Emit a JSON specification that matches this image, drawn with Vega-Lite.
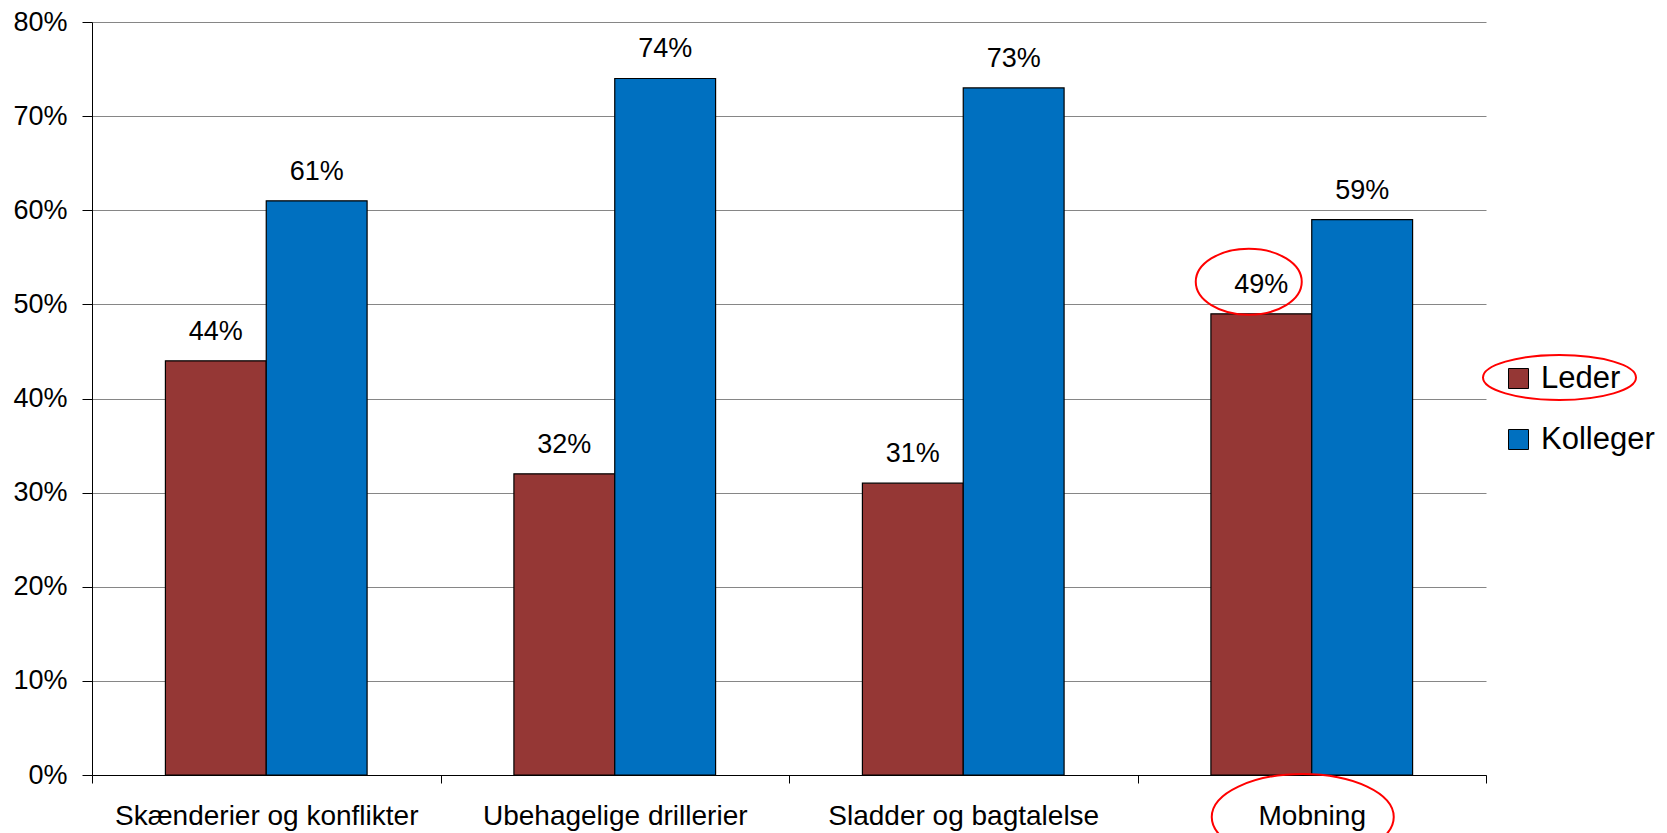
{
  "$schema": "https://vega.github.io/schema/vega-lite/v6.json",
  "width": 1394,
  "height": 753,
  "autosize": {"type": "none"},
  "padding": {"left": 92, "top": 22, "right": 181, "bottom": 58},
  "background": "white",
  "config": {
    "view": {"stroke": null},
    "font": "Liberation Sans",
    "text": {"font": "Liberation Sans"},
    "axis": {"labelFont": "Liberation Sans", "labelColor": "black", "domainColor": "black", "tickColor": "black", "domainWidth": 1, "tickWidth": 1},
    "legend": {"labelFont": "Liberation Sans", "labelColor": "black"}
  },
  "datasets": {
    "svar": [
      {"kategori": "Skænderier og konflikter", "gruppe": "Leder", "andel": 0.44},
      {"kategori": "Skænderier og konflikter", "gruppe": "Kolleger", "andel": 0.61},
      {"kategori": "Ubehagelige drillerier", "gruppe": "Leder", "andel": 0.32},
      {"kategori": "Ubehagelige drillerier", "gruppe": "Kolleger", "andel": 0.74},
      {"kategori": "Sladder og bagtalelse", "gruppe": "Leder", "andel": 0.31},
      {"kategori": "Sladder og bagtalelse", "gruppe": "Kolleger", "andel": 0.73},
      {"kategori": "Mobning", "gruppe": "Leder", "andel": 0.49},
      {"kategori": "Mobning", "gruppe": "Kolleger", "andel": 0.59}
    ],
    "noter": [
      {"kategori": "Mobning", "gruppe": "Leder", "andel": 0.49, "ring": "markeret", "maal": "etiket"},
      {"kategori": "Mobning", "ring": "markeret", "maal": "akse"}
    ]
  },
  "layer": [
    {
      "data": {"name": "svar"},
      "mark": {"type": "bar", "stroke": "black", "strokeWidth": 1.2},
      "encoding": {
        "x": {
          "field": "kategori", "type": "nominal", "sort": null,
          "scale": {"paddingInner": 0, "paddingOuter": 0},
          "axis": {"title": null, "labelAngle": 0, "labelFontSize": 28, "labelLimit": 0, "tickBand": "extent", "tickSize": 8, "labelPadding": 19, "grid": false}
        },
        "xOffset": {
          "field": "gruppe", "type": "nominal", "sort": ["Leder", "Kolleger"],
          "scale": {"paddingInner": 0, "paddingOuter": 0.728}
        },
        "y": {
          "field": "andel", "type": "quantitative",
          "scale": {"domain": [0, 0.8], "nice": false},
          "axis": {"title": null, "format": ".0%", "values": [0, 0.1, 0.2, 0.3, 0.4, 0.5, 0.6, 0.7, 0.8], "labelFontSize": 27, "tickSize": 10, "labelPadding": 15, "grid": true, "gridColor": "#868686", "gridWidth": 1}
        },
        "color": {
          "field": "gruppe", "type": "nominal",
          "scale": {"domain": ["Leder", "Kolleger"], "range": ["#953735", "#0070C0"]},
          "legend": {"orient": "none", "legendX": 1411, "legendY": 341, "title": null, "symbolType": "square", "symbolSize": 400, "symbolStrokeColor": "black", "symbolStrokeWidth": 1, "symbolOpacity": 1, "labelFontSize": 31, "labelOffset": 7, "rowPadding": 29, "padding": 0}
        }
      }
    },
    {
      "data": {"name": "svar"},
      "mark": {"type": "text", "baseline": "alphabetic", "dy": -21, "fontSize": 27, "color": "black"},
      "encoding": {
        "x": {"field": "kategori", "type": "nominal", "sort": null},
        "xOffset": {"field": "gruppe", "type": "nominal", "sort": ["Leder", "Kolleger"]},
        "y": {"field": "andel", "type": "quantitative"},
        "text": {"field": "andel", "type": "quantitative", "format": ".0%"}
      }
    },
    {
      "data": {"name": "noter"},
      "transform": [{"filter": "datum.maal === 'etiket'"}],
      "mark": {"type": "point", "filled": false, "strokeWidth": 2, "opacity": 1, "yOffset": -32, "xOffset": -63, "size": 11236,
               "shape": "M -1 0 A 1 0.623 0 1 1 1 0 A 1 0.623 0 1 1 -1 0 Z"},
      "encoding": {
        "x": {"field": "kategori", "type": "nominal", "sort": null},
        "y": {"field": "andel", "type": "quantitative"},
        "stroke": {
          "field": "ring", "type": "nominal",
          "scale": {"range": ["#ff0000"]},
          "legend": {"orient": "none", "legendX": 1390, "legendY": 278, "title": null,
                     "symbolType": "M -1 0 A 1 0.294 0 1 1 1 0 A 1 0.294 0 1 1 -1 0 Z",
                     "symbolSize": 23409, "symbolStrokeWidth": 2, "symbolFillColor": "transparent",
                     "symbolStrokeColor": "#ff0000", "labelExpr": "''", "labelFontSize": 1, "padding": 0}
        }
      }
    },
    {
      "data": {"name": "noter"},
      "transform": [{"filter": "datum.maal === 'akse'"}],
      "mark": {"type": "point", "filled": false, "strokeWidth": 2, "opacity": 1, "yOffset": 42, "xOffset": -9, "size": 33124,
               "shape": "M -1 0 A 1 0.473 0 1 1 1 0 A 1 0.473 0 1 1 -1 0 Z"},
      "encoding": {
        "x": {"field": "kategori", "type": "nominal", "sort": null},
        "y": {"datum": 0, "type": "quantitative"},
        "stroke": {"field": "ring", "type": "nominal"}
      }
    }
  ]
}
